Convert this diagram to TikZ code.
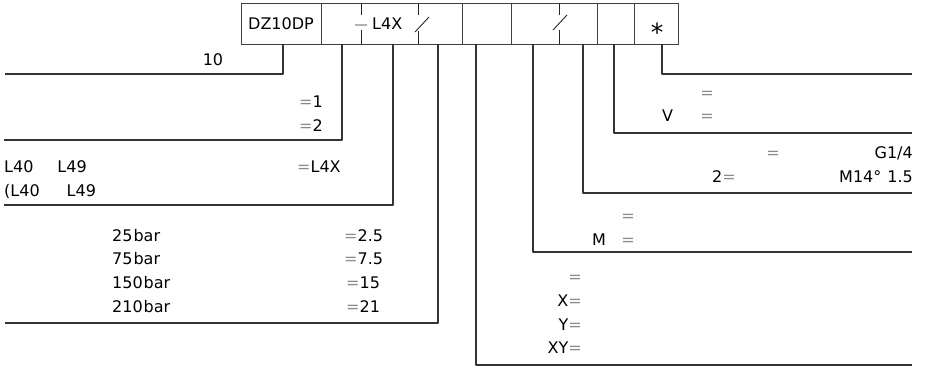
\documentclass[tikz,border=0pt]{standalone}
\usepackage{fontspec}
\setmainfont{DejaVu Sans}
\definecolor{eqgray}{HTML}{8C8C8C}
\newcommand{\eqs}{\textcolor{eqgray}{=}}
\tikzset{
  cell/.style={draw=black!75, line width=0.9pt, minimum height=40.5pt, inner sep=0pt},
  leader/.style={draw=black!80, line width=1.3pt},
  tickline/.style={draw=black!85, line width=0.9pt},
  txt/.style={inner sep=0pt, anchor=base west},
  rtxt/.style={inner sep=0pt, anchor=base east},
  ctxt/.style={inner sep=0pt, anchor=base},
}
\begin{document}
\begin{tikzpicture}[x=1pt, y=-1pt, font=\fontsize{16}{18}\selectfont, line join=round]
  \useasboundingbox (0,0) rectangle (925,369);
  % code boxes
  \node[cell, minimum width=80pt] (c1) at (281,23.75) {DZ10DP};
  \node[cell, minimum width=141pt] (c2) at (391.5,23.75) {};
  \node[cell, minimum width=49pt] (c3) at (486.5,23.75) {};
  \node[cell, minimum width=86pt] (c4) at (554,23.75) {};
  \node[cell, minimum width=37pt] (c5) at (615.5,23.75) {};
  \node[cell, minimum width=44pt] (c6) at (656,23.75) {};
  \node[txt] (l4x) at (372,30) {L4X};
  \node[inner sep=0pt, anchor=north] (star) at (657,22.5) {\fontsize{25}{25}\selectfont *};
  \draw[tickline]
    (361,0 |- c2.north) -- (361,15) (361,30) -- (361,0 |- c2.south)
    (418,0 |- c2.north) -- (418,15) (418,31) -- (418,0 |- c2.south)
    (559,0 |- c4.north) -- (559,15) (559,30) -- (559,0 |- c4.south);
  \draw[tickline] (355,25) -- (367,25) (415,32) -- (429,17) (553,30) -- (567,15);
  % leader ends
  \coordinate (l1) at (5,74);
  \coordinate (l2) at (4,140);
  \coordinate (l3) at (4,205);
  \coordinate (l4) at (5,323);
  \coordinate (r1) at (912,74);
  \coordinate (r2) at (912,133);
  \coordinate (r3) at (912,193);
  \coordinate (r4) at (912,252);
  \coordinate (r5) at (912,365);
  \draw[leader] (283,0 |- c1.south) |- (l1);
  \draw[leader] (342,0 |- c2.south) |- (l2);
  \draw[leader] (393,0 |- c2.south) |- (l3);
  \draw[leader] (438,0 |- c2.south) |- (l4);
  \draw[leader] (662,0 |- c6.south) |- (r1);
  \draw[leader] (614,0 |- c5.south) |- (r2);
  \draw[leader] (583,0 |- c4.south) |- (r3);
  \draw[leader] (533,0 |- c4.south) |- (r4);
  \draw[leader] (476,0 |- c3.south) |- (r5);
  % left texts
  \node[ctxt] (t10) at (213,66) {10};
  \node[txt] (t1) at (299,107) {\eqs1};
  \node[txt] (t2) at (299,131) {\eqs2};
  \node[txt] (la) at (4,172) {L40\hspace{24pt}L49};
  \node[txt] (lb) at (4,196) {(L40\hspace{27pt}L49};
  \node[txt] (tl4x) at (297,172) {\eqs L4X};
  \node[txt] (p1) at (112,241) {25\kern1pt bar};
  \node[txt] (p2) at (112,264) {75\kern1pt bar};
  \node[txt] (p3) at (112,288) {150\kern1pt bar};
  \node[txt] (p4) at (112,312) {210\kern1pt bar};
  \node[txt] (v1) at (344,241) {\eqs2.5};
  \node[txt] (v2) at (344,264) {\eqs7.5};
  \node[txt] (v3) at (346,288) {\eqs15};
  \node[txt] (v4) at (346,312) {\eqs21};
  % right texts
  \node[ctxt] (e1) at (707,98) {\eqs};
  \node[txt] (tv) at (662,121) {V};
  \node[ctxt] (e2) at (707,121) {\eqs};
  \node[ctxt] (e3) at (773,158) {\eqs};
  \node[rtxt] (tg) at (913,158) {G1/4};
  \node[txt] (t2e) at (712,182) {2\eqs};
  \node[rtxt] (tm) at (913,182) {M14°\hspace{6pt}1.5};
  \node[ctxt] (e4) at (628,221) {\eqs};
  \node[txt] (tmm) at (592,245) {M};
  \node[ctxt] (e5) at (628,245) {\eqs};
  \node[rtxt] (e6) at (582,282) {\eqs};
  \node[rtxt] (tx) at (582,306) {X\eqs};
  \node[rtxt] (ty) at (582,330) {Y\eqs};
  \node[rtxt] (txy) at (582,353) {XY\eqs};
\end{tikzpicture}
\end{document}
